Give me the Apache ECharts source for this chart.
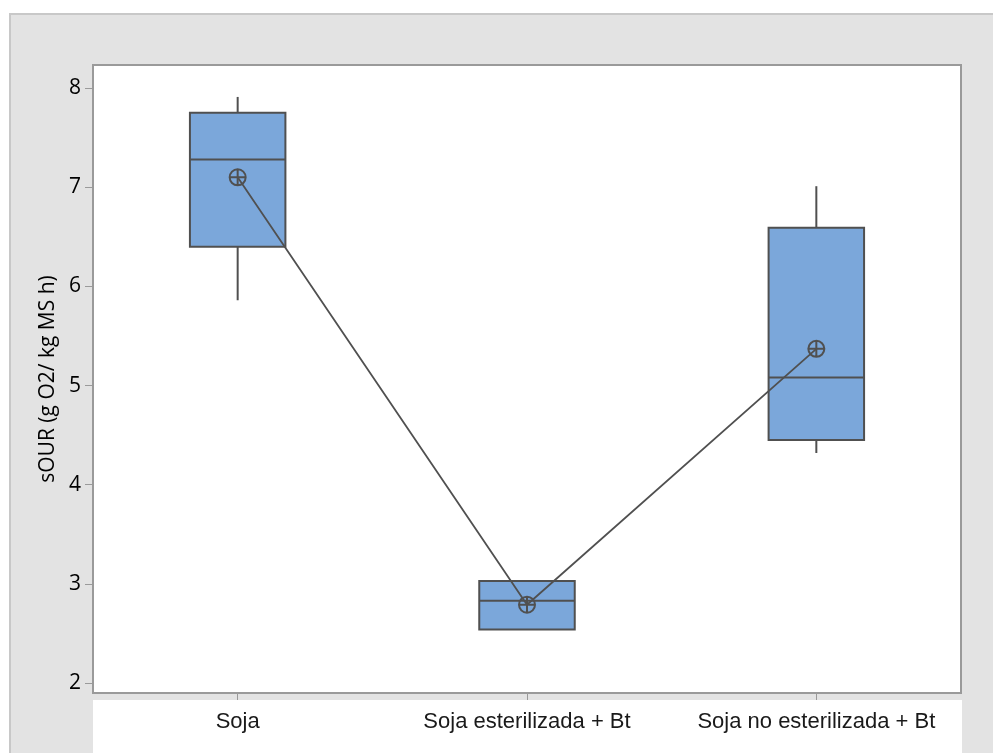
<!DOCTYPE html>
<html>
<head>
<meta charset="utf-8">
<script src="https://cdn.jsdelivr.net/npm/echarts@6/dist/echarts.min.js"></script>
<style>
  html, body { margin: 0; padding: 0; background: #fff; }
  #wrap { position: relative; width: 993px; height: 753px; overflow: hidden; }
  #panel { position: absolute; left: 9px; top: 13px; width: 1000px; height: 800px;
    background: #e3e3e3; border-top: 2px solid #c8c8c8; border-left: 2px solid #c8c8c8; box-sizing: border-box; }
  #strip { position: absolute; left: 93px; top: 700px; width: 869px; height: 60px; background: #fff; }
  #chart { position: absolute; left: 0; top: 0; width: 993px; height: 753px; }
</style>
</head>
<body>
<div id="wrap">
  <div id="panel"></div>
  <div id="strip"></div>
  <div id="chart"></div>
</div>
<script>
// categorias
const categories = ['Soja', 'Soja esterilizada + Bt', 'Soja no esterilizada + Bt']
// valores
const whiskerLow = [5.86, 2.54, 4.32]
const q1 = [6.40, 2.54, 4.45]
const median = [7.28, 2.83, 5.08]
const q3 = [7.75, 3.03, 6.59]
const whiskerHigh = [7.91, 3.03, 7.01]
const means = [7.10, 2.79, 5.37]
const yTicks = [2, 3, 4, 5, 6, 7, 8]

const boxData = categories.map((c, i) => [i, whiskerLow[i], q1[i], median[i], q3[i], whiskerHigh[i]])

const lineColor = '#505050'
const boxColor = '#7BA7DA'

function renderBox(params, api) {
  const i = api.value(0)
  const pLow = api.coord([i, api.value(1)])
  const pQ1 = api.coord([i, api.value(2)])
  const pMed = api.coord([i, api.value(3)])
  const pQ3 = api.coord([i, api.value(4)])
  const pHigh = api.coord([i, api.value(5)])
  const w = api.size([1, 0])[0] * 0.33
  const x = pQ1[0]
  const stroke = { stroke: lineColor, lineWidth: 2 }
  return {
    type: 'group',
    children: [
      { type: 'line', shape: { x1: x, y1: pQ3[1], x2: x, y2: pHigh[1] }, style: { stroke: lineColor, lineWidth: 2 } },
      { type: 'line', shape: { x1: x, y1: pQ1[1], x2: x, y2: pLow[1] }, style: { stroke: lineColor, lineWidth: 2 } },
      { type: 'rect', shape: { x: x - w / 2, y: pQ3[1], width: w, height: pQ1[1] - pQ3[1] },
        style: Object.assign({ fill: boxColor }, stroke) },
      { type: 'line', shape: { x1: x - w / 2, y1: pMed[1], x2: x + w / 2, y2: pMed[1] }, style: stroke }
    ]
  }
}

const chart = echarts.init(document.getElementById('chart'), null, { renderer: 'canvas' })
chart.setOption({
  backgroundColor: 'transparent',
  animation: false,
  grid: {
    left: 93, top: 65, right: 32, bottom: 60,
    show: true, backgroundColor: '#fff', borderColor: '#9a9a9a', borderWidth: 2
  },
  xAxis: {
    type: 'category',
    data: categories,
    boundaryGap: true,
    axisLine: { show: false },
    axisTick: { show: true, interval: 0, alignWithLabel: true, length: 7, lineStyle: { color: '#9a9a9a', width: 1 } },
    axisLabel: { interval: 0, hideOverlap: false, margin: 18, fontSize: 22, color: '#1a1a1a', fontFamily: 'Liberation Sans, Arial, sans-serif' },
    splitLine: { show: false }
  },
  yAxis: {
    type: 'value',
    min: 1.9,
    max: 8.232,
    name: 'sOUR (g O2/ kg MS h)',
    nameLocation: 'middle',
    nameGap: 33,
    nameRotate: 90,
    nameTextStyle: { fontSize: 21, color: '#000', fontFamily: 'Open Sans, sans-serif' },
    axisLine: { show: false },
    axisTick: { show: true, length: 8, customValues: yTicks, lineStyle: { color: '#9a9a9a', width: 1 } },
    axisLabel: { margin: 12, fontSize: 21, color: '#000', fontFamily: 'Open Sans, sans-serif', customValues: yTicks },
    splitLine: { show: false }
  },
  series: [
    {
      type: 'custom',
      renderItem: renderBox,
      encode: { x: 0, y: [1, 2, 3, 4, 5] },
      data: boxData,
      z: 2
    },
    {
      type: 'line',
      data: means,
      symbol: 'path://M0,-10A10,10 0 1,1 0,10A10,10 0 1,1 0,-10ZM-10,0L10,0M0,-10L0,10',
      symbolSize: 16,
      itemStyle: { color: 'none', borderColor: lineColor, borderWidth: 2 },
      lineStyle: { color: lineColor, width: 1.8 },
      z: 3
    }
  ]
})
</script>
</body>
</html>
